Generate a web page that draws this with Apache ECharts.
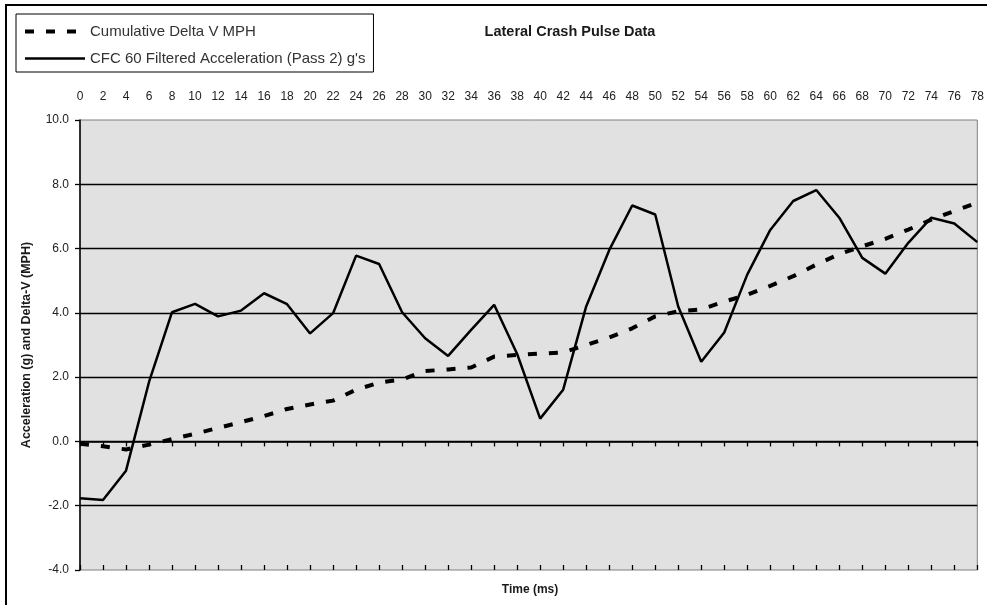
<!DOCTYPE html>
<html>
<head>
<meta charset="utf-8">
<script src="https://cdn.jsdelivr.net/npm/echarts@6/dist/echarts.min.js"></script>
<style>
  html, body { margin: 0; padding: 0; background: #fff; }
  #crashPulse { width: 987px; height: 605px; }
</style>
</head>
<body>
<div id="crashPulse"></div>
<script>
// time in ms (category axis, printed along the top)
var timeLabels = ['0','2','4','6','8','10','12','14','16','18','20','22','24','26','28','30','32','34','36','38',
                  '40','42','44','46','48','50','52','54','56','58','60','62','64','66','68','70','72','74','76','78'];

// CFC 60 filtered acceleration, g's
var accelData = [-1.77, -1.82, -0.91, 1.85, 4.02, 4.28, 3.89, 4.07, 4.61, 4.27,
                 3.36, 3.99, 5.78, 5.52, 4.02, 3.21, 2.66, 3.47, 4.25, 2.72,
                 0.71, 1.61, 4.20, 5.95, 7.34, 7.06, 4.20, 2.48, 3.39, 5.19,
                 6.58, 7.48, 7.82, 6.96, 5.71, 5.22, 6.18, 6.96, 6.78, 6.20];

// cumulative delta V, MPH
var deltaVData = [-0.07, -0.15, -0.25, -0.10, 0.07, 0.24, 0.42, 0.60, 0.79, 1.01,
                  1.15, 1.27, 1.61, 1.83, 1.93, 2.19, 2.24, 2.30, 2.64, 2.69,
                  2.73, 2.77, 3.00, 3.23, 3.52, 3.89, 4.05, 4.11, 4.35, 4.56,
                  4.84, 5.14, 5.50, 5.83, 6.07, 6.30, 6.59, 6.90, 7.17, 7.43];

var seriesNames = ['Cumulative Delta V MPH', "CFC 60 Filtered Acceleration (Pass 2) g's"];

var FONT = '"Liberation Sans", Arial, sans-serif';

var pulseChart = echarts.init(document.getElementById('crashPulse'));

var pulseOption = {
    animation: false,
    backgroundColor: '#fff',
    textStyle: { fontFamily: FONT },
    title: [{
        text: 'Lateral Crash Pulse Data',
        left: 570,
        top: 32,
        padding: 0,
        textAlign: 'center',
        textVerticalAlign: 'middle',
        textStyle: { fontFamily: FONT, fontSize: 14.5, fontWeight: 'bold', color: '#1a1a1a' }
    }, {
        text: 'Time (ms)',
        left: 530,
        top: 590,
        padding: 0,
        textAlign: 'center',
        textVerticalAlign: 'middle',
        textStyle: { fontFamily: FONT, fontSize: 12, fontWeight: 'bold', color: '#1a1a1a' }
    }],
    legend: {
        orient: 'vertical',
        left: 16,
        top: 14,
        padding: [10, 8, 6, 7],
        itemWidth: 60,
        itemHeight: 14,
        itemGap: 12,
        borderColor: '#000',
        borderWidth: 1,
        data: seriesNames,
        itemStyle: { opacity: 0 },            // line only, no marker in the key
        lineStyle: { width: 'inherit', type: 'inherit' },
        textStyle: { fontFamily: FONT, fontSize: 15, color: '#333' }
    },
    graphic: [{
        // outer chart frame (cut off on right / bottom in the original)
        type: 'rect',
        silent: true,
        shape: { x: 6, y: 5, width: 1000, height: 700 },
        style: { fill: 'none', stroke: '#000', lineWidth: 2 }
    }],
    grid: {
        left: 80,
        right: 7,
        top: 120,
        bottom: 35,
        show: true,
        backgroundColor: '#e1e1e1',
        borderColor: '#808080',
        borderWidth: 1
    },
    xAxis: [{
        // labels along the top
        type: 'category',
        data: timeLabels,
        position: 'top',
        boundaryGap: false,
        axisLine: { show: false, onZero: false },
        axisTick: { show: false },
        axisLabel: { interval: 0, margin: 17, fontSize: 12, color: '#222', fontFamily: FONT },
        splitLine: { show: false }
    }, {
        // zero line, tick marks pointing down
        type: 'category',
        data: timeLabels,
        position: 'bottom',
        boundaryGap: false,
        axisLine: { show: true, onZero: true, lineStyle: { color: '#000', width: 1.5 } },
        axisTick: { show: true, interval: 0, inside: false, length: 5, lineStyle: { color: '#000', width: 1.3 } },
        axisLabel: { show: false },
        splitLine: { show: false }
    }, {
        // same zero line, tick marks pointing up
        type: 'category',
        data: timeLabels,
        position: 'bottom',
        boundaryGap: false,
        axisLine: { show: false, onZero: true },
        axisTick: { show: true, interval: 0, inside: true, length: 5, lineStyle: { color: '#000', width: 1.3 } },
        axisLabel: { show: false },
        splitLine: { show: false }
    }],
    yAxis: {
        type: 'value',
        min: -4,
        max: 10,
        interval: 2,
        name: 'Acceleration (g) and Delta-V (MPH)',
        nameLocation: 'middle',
        nameGap: 47,
        nameTextStyle: { fontFamily: FONT, fontSize: 12.5, fontWeight: 'bold', color: '#1a1a1a' },
        axisLine: { show: true, lineStyle: { color: '#000', width: 1.5 } },
        axisTick: { show: true, inside: false, length: 5, lineStyle: { color: '#000', width: 1.3 } },
        axisLabel: {
            margin: 11,
            fontSize: 12,
            color: '#222',
            fontFamily: FONT,
            formatter: function (v) { return v.toFixed(1); }
        },
        splitLine: {
            show: true,
            showMinLine: false,
            showMaxLine: false,
            lineStyle: { color: '#000', width: 1.3 }
        }
    },
    series: [{
        name: seriesNames[0],
        type: 'line',
        xAxisIndex: 0,
        data: deltaVData,
        symbol: 'none',
        lineStyle: { color: '#000', width: 4, type: [9, 12], cap: 'butt' },
        itemStyle: { color: '#000' },
        z: 3
    }, {
        name: seriesNames[1],
        type: 'line',
        xAxisIndex: 0,
        data: accelData,
        symbol: 'none',
        lineStyle: { color: '#000', width: 2.5 },
        itemStyle: { color: '#000' },
        z: 4
    }]
};

pulseChart.setOption(pulseOption);
</script>
</body>
</html>
